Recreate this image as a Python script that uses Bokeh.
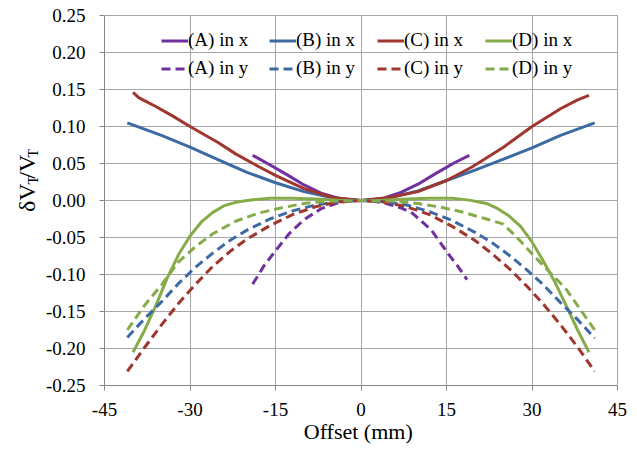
import math
from bokeh.plotting import figure
from bokeh.layouts import row
from bokeh.models import Legend, LegendItem, FixedTicker, Range1d, NumeralTickFormatter
from bokeh.core.properties import value
from bokeh.embed import file_html
from bokeh.resources import INLINE

# ---- data ----
x_ticks = [-45, -30, -15, 0, 15, 30, 45]
y_ticks = [-0.25, -0.2, -0.15, -0.1, -0.05, 0.0, 0.05, 0.1, 0.15, 0.2, 0.25]

a_x_off = [-19, -16.4, -13, -10, -7, -4, -2, 0, 2, 4, 7, 10, 13, 16.4, 19]
a_x_val = [0.061, 0.050, 0.035, 0.021, 0.010, 0.003, 0.0008, 0.0, 0.0008, 0.003, 0.011, 0.022, 0.036, 0.051, 0.061]

a_y_off = [-19, -17, -15, -12.5, -10, -7, -4, -2, 0, 2, 4, 7, 9, 12.4, 15.3, 17, 18.6]
a_y_val = [-0.113, -0.088, -0.068, -0.044, -0.026, -0.011, -0.003, -0.0008, 0.0, -0.0008, -0.003, -0.010, -0.017, -0.0405, -0.072, -0.089, -0.107]

b_x_off = [-41, -35, -30, -25, -20, -15, -10, -5, 0, 5, 10, 15, 20, 25, 30, 35, 41]
b_x_val = [0.105, 0.088, 0.072, 0.055, 0.038, 0.024, 0.012, 0.0035, 0.0, 0.0035, 0.013, 0.027, 0.041, 0.056, 0.071, 0.088, 0.105]

b_y_off = [-41, -38, -35, -32, -29, -26, -23, -20, -16, -12, -8, -4, 0, 4, 8, 12, 16, 20, 23, 26, 29, 32, 35, 38, 41]
b_y_val = [-0.185, -0.160, -0.137, -0.112, -0.090, -0.071, -0.054, -0.040, -0.025, -0.014, -0.006, -0.0015, 0.0,
           -0.0015, -0.006, -0.015, -0.027, -0.043, -0.057, -0.074, -0.093, -0.114, -0.138, -0.161, -0.186]

c_x_off = [-40, -39, -38, -36, -33, -30, -25, -22, -18, -15, -10, -5, 0, 5, 10, 15, 19.4, 25, 30, 35, 38, 40]
c_x_val = [0.146, 0.139, 0.135, 0.127, 0.114, 0.100, 0.078, 0.063, 0.046, 0.034, 0.016, 0.004, 0.0,
           0.004, 0.012, 0.027, 0.045, 0.072, 0.100, 0.124, 0.136, 0.142]

c_y_off = [-41, -38, -35, -32, -29, -26, -23, -20, -16, -12, -8, -4, 0, 4, 8, 12, 16, 20, 23, 26, 29, 32, 35, 38, 41]
c_y_val = [-0.231, -0.199, -0.168, -0.139, -0.113, -0.089, -0.069, -0.052, -0.034, -0.019, -0.0085, -0.002, 0.0,
           -0.002, -0.0085, -0.019, -0.035, -0.054, -0.072, -0.092, -0.115, -0.140, -0.168, -0.198, -0.231]

d_x_off = [-40, -38, -36, -34, -32, -30, -28, -26, -24, -22, -19, -16, -12, -8, -4, 0,
           4, 8, 12, 16, 19, 22, 24, 26, 28, 30, 32, 34, 36, 38, 40]
d_x_val = [-0.205, -0.176, -0.142, -0.105, -0.073, -0.048, -0.029, -0.016, -0.007, -0.0025, 0.001, 0.003, 0.003, 0.002, 0.0005, 0.0,
           0.0005, 0.002, 0.003, 0.003, 0.0005, -0.004, -0.011, -0.021, -0.035, -0.056, -0.082, -0.110, -0.142, -0.175, -0.205]

d_y_off = [-41, -38, -35, -32, -29, -26, -22, -18, -14, -10, -6, 0, 6, 10, 14, 18, 22, 25, 28, 30, 32, 34, 36, 38, 41]
d_y_val = [-0.175, -0.142, -0.114, -0.083, -0.062, -0.045, -0.028, -0.017, -0.010, -0.004, -0.001, 0.0,
           -0.001, -0.004, -0.009, -0.016, -0.025, -0.032, -0.055, -0.072, -0.088, -0.104, -0.120, -0.142, -0.175]

labels_x = ["(A) in x", "(B) in x", "(C) in x", "(D) in x"]
labels_y = ["(A) in y", "(B) in y", "(C) in y", "(D) in y"]
x_title = "Offset  (mm)"
y_title_parts = ["δV", "T", "/V", "T"]
colors = ["#7030A0", "#3D6AA3", "#A0372F", "#86AC4A"]

FONT = "'Liberation Serif', 'Times New Roman', serif"
LAB_W = 42  # width of the strip that carries the rotated y title
H = 449

# ---- strip with the rotated y-axis title (sub-scripted pieces) ----
lab = figure(width=LAB_W, height=H, x_range=Range1d(0, LAB_W), y_range=Range1d(0, H),
             output_backend="svg", toolbar_location=None, x_axis_type=None, y_axis_type=None,
             min_border_left=0, min_border_right=0, min_border_top=0, min_border_bottom=0)
lab.outline_line_color = None
lab.xgrid.visible = False
lab.ygrid.visible = False
main_parts = [y_title_parts[0], y_title_parts[2]]
sub_parts = [y_title_parts[1], y_title_parts[3]]
lab.text(x=[26.5, 26.5], y=[H - 221, H - 183.5], text=main_parts, angle=math.pi / 2,
         text_align="center", text_baseline="middle", text_font=value(FONT),
         text_font_size="24px", text_color="black")
lab.text(x=[33, 33], y=[H - 200, H - 167], text=sub_parts, angle=math.pi / 2,
         text_align="center", text_baseline="middle", text_font=value(FONT),
         text_font_size="14px", text_color="black")

# ---- main chart ----
p = figure(width=637 - LAB_W, height=H, x_range=Range1d(-45, 45), y_range=Range1d(-0.25, 0.25),
           output_backend="svg", toolbar_location=None,
           min_border_left=101 - LAB_W, min_border_right=20, min_border_top=15, min_border_bottom=64)

p.background_fill_color = "white"
p.outline_line_color = "#a6a6a6"
p.outline_line_width = 1

for ax in (p.xaxis[0], p.yaxis[0]):
    ax.major_label_text_font = FONT
    ax.major_label_text_font_size = "19px"
    ax.major_label_text_color = "black"
    ax.axis_line_color = "#868686"
    ax.major_tick_line_color = "#868686"
    ax.major_tick_in = 0
    ax.major_tick_out = 5
    ax.minor_tick_line_color = None

p.xaxis.ticker = FixedTicker(ticks=x_ticks)
p.yaxis.ticker = FixedTicker(ticks=y_ticks)
p.xaxis.formatter = NumeralTickFormatter(format="0")
p.yaxis.formatter = NumeralTickFormatter(format="0.00")
p.xaxis.major_label_standoff = 12
p.yaxis.major_label_standoff = 14

p.xaxis.axis_label = x_title
p.xaxis.axis_label_text_font = FONT
p.xaxis.axis_label_text_font_size = "22px"
p.xaxis.axis_label_text_font_style = "normal"
p.xaxis.axis_label_text_color = "black"
p.xaxis.axis_label_standoff = 0

p.xgrid.ticker = FixedTicker(ticks=x_ticks)
p.ygrid.ticker = FixedTicker(ticks=y_ticks)
for g in (p.xgrid[0], p.ygrid[0]):
    g.grid_line_color = "#a6a6a6"
    g.grid_line_width = 1

series_x = [(a_x_off, a_x_val), (b_x_off, b_x_val), (c_x_off, c_x_val), (d_x_off, d_x_val)]
series_y = [(a_y_off, a_y_val), (b_y_off, b_y_val), (c_y_off, c_y_val), (d_y_off, d_y_val)]

rx, ry = [], []
for (xs, ys), c in zip(series_x, colors):
    rx.append(p.line(xs, ys, line_color=c, line_width=3))
for (xs, ys), c in zip(series_y, colors):
    ry.append(p.line(xs, ys, line_color=c, line_width=3, line_dash="9 5"))

def make_legend(labels, rends, bottom):
    leg = Legend(items=[LegendItem(label=l, renderers=[r]) for l, r in zip(labels, rends)],
                 orientation="horizontal", location=(57, bottom))
    leg.background_fill_alpha = 0
    leg.border_line_alpha = 0
    leg.label_text_font = FONT
    leg.label_text_font_size = "19px"
    leg.label_text_color = "black"
    leg.glyph_width = 27
    leg.glyph_height = 19
    leg.label_height = 19
    leg.label_width = 72
    leg.label_standoff = 0
    leg.spacing = 9
    leg.padding = 0
    leg.margin = 0
    return leg

p.add_layout(make_legend(labels_x, rx, 334))
p.add_layout(make_legend(labels_y, ry, 306))

layout = row(lab, p, spacing=0)
open("out.html", "w").write(file_html(layout, INLINE))
